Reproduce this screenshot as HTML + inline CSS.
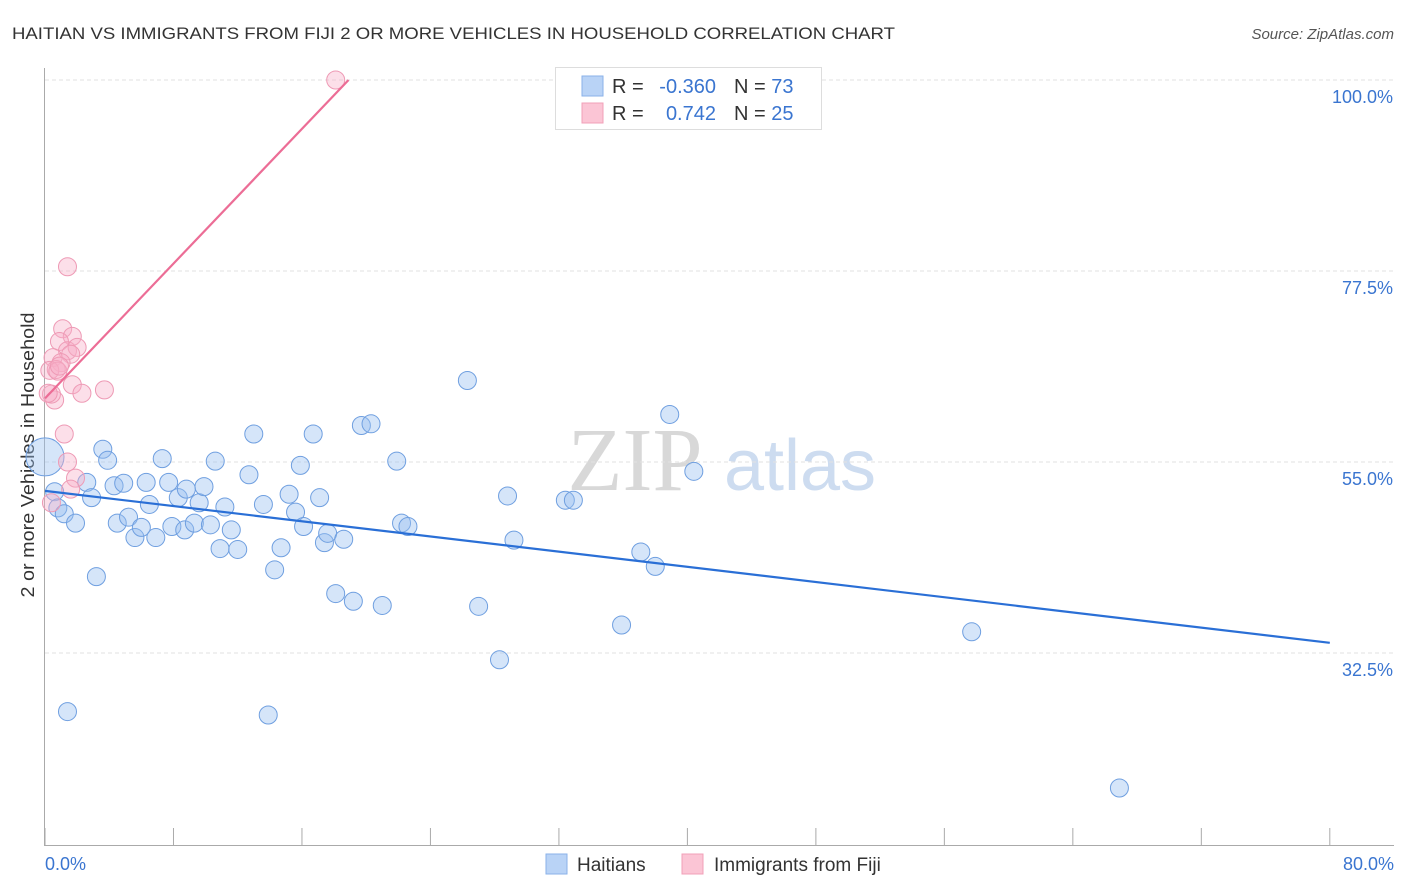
<!DOCTYPE html>
<html><head><meta charset="utf-8"><style>
body{margin:0;background:#fff;font-family:"Liberation Sans",sans-serif;}
svg{display:block}
</style></head><body>
<svg id="chart" width="1406" height="892" xmlns="http://www.w3.org/2000/svg">
<text x="12" y="39" font-size="17" fill="#333" textLength="883" lengthAdjust="spacingAndGlyphs">HAITIAN VS IMMIGRANTS FROM FIJI 2 OR MORE VEHICLES IN HOUSEHOLD CORRELATION CHART</text>
<text x="1394" y="39" font-size="15" fill="#555" font-style="italic" text-anchor="end">Source: ZipAtlas.com</text>
<text x="635" y="490" font-size="90" fill="#d8d8d8" font-family="Liberation Serif,serif" text-anchor="middle">ZIP</text>
<text x="800" y="490" font-size="72" fill="#cddcf0" text-anchor="middle">atlas</text>
<text transform="translate(34,455) rotate(-90)" font-size="18" fill="#333" text-anchor="middle" textLength="285" lengthAdjust="spacingAndGlyphs">2 or more Vehicles in Household</text>
<g id="grid"></g><g id="axes"></g><g id="pts"></g><g id="lines"></g>
<g>
<rect x="555.5" y="67.5" width="266" height="62" fill="#fff" stroke="#ddd"/>
<rect x="582" y="76" width="21" height="20" fill="#b9d3f6" stroke="#8ab2e8"/>
<rect x="582" y="103" width="21" height="20" fill="#fbc5d5" stroke="#f2a0b8"/>
<text x="612" y="93" font-size="20" fill="#333">R = </text>
<text x="716" y="93" font-size="20" fill="#3a75d0" text-anchor="end">-0.360</text>
<text x="734" y="93" font-size="20" fill="#333">N = <tspan fill="#3a75d0">73</tspan></text>
<text x="612" y="120" font-size="20" fill="#333">R = </text>
<text x="716" y="120" font-size="20" fill="#3a75d0" text-anchor="end">0.742</text>
<text x="734" y="120" font-size="20" fill="#333">N = <tspan fill="#3a75d0">25</tspan></text>
</g>
<g>
<rect x="546" y="854" width="21" height="20" fill="#b9d3f6" stroke="#8ab2e8"/>
<text x="577" y="871" font-size="19" fill="#333">Haitians</text>
<rect x="682" y="854" width="21" height="20" fill="#fbc5d5" stroke="#f2a0b8"/>
<text x="714" y="871" font-size="19" fill="#333">Immigrants from Fiji</text>
</g>
<text x="45" y="870" font-size="18" fill="#3a75d0">0.0%</text>
<text x="1394" y="870" font-size="18" fill="#3a75d0" text-anchor="end">80.0%</text>
</svg>
<script>
const yTicks=[100,77.5,55,32.5];
const yTickLabels=["100.0%","77.5%","55.0%","32.5%"];
const haitiansX=[0,0.6,0.8,1.2,1.9,2.6,2.9,3.2,3.6,3.9,4.3,1.4,4.9,4.5,5.2,5.6,6.0,6.3,6.5,6.9,7.3,7.7,7.9,8.3,8.7,8.8,9.3,9.6,9.9,10.3,10.6,10.9,11.2,11.6,12.0,12.7,13.0,13.6,13.9,14.3,14.7,15.2,15.6,15.9,16.1,16.7,17.1,17.4,17.6,18.1,18.6,19.2,19.7,20.3,21.0,21.9,22.2,22.6,26.3,27.0,28.3,28.8,29.2,32.4,32.9,35.9,37.1,38.0,38.9,40.4,57.7,66.9];
const haitiansY=[55.6,51.5,49.6,48.9,47.8,52.6,50.8,41.5,56.5,55.2,52.2,25.6,52.5,47.8,48.5,46.1,47.3,52.6,50.0,46.1,55.4,52.6,47.4,50.8,47.0,51.8,47.8,50.2,52.1,47.6,55.1,44.8,49.7,47.0,44.7,53.5,58.3,50.0,25.2,42.3,44.9,51.2,49.1,54.6,47.4,58.3,50.8,45.5,46.6,39.5,45.9,38.6,59.3,59.5,38.1,55.1,47.8,47.4,64.6,38.0,31.7,51.0,45.8,50.5,50.5,35.8,44.4,42.7,60.6,53.9,35.0,16.6];
const fijiX=[18.1,1.4,1.1,1.7,0.9,1.4,2.0,1.6,0.5,1.0,0.7,0.3,0.8,1.7,2.3,3.7,0.6,0.4,1.2,1.4,1.9,1.6,0.4,0.2,0.9];
const fijiY=[100,78.0,70.7,69.8,69.2,68.1,68.5,67.7,67.3,66.7,65.9,65.8,65.7,64.1,63.1,63.5,62.3,63.0,58.3,55.0,53.1,51.8,50.2,63.1,66.3];
const hTrend=[[0,51.6],[80,33.7]];
const fTrend=[[0,62.5],[18.9,100]];
const X=v=>45+v*16.06, Y=v=>80+(100-v)*8.489;
const ns="http://www.w3.org/2000/svg";
function mk(tag,attrs,parent){const e=document.createElementNS(ns,tag);for(const k in attrs)e.setAttribute(k,attrs[k]);document.getElementById(parent).appendChild(e);return e;}
yTicks.forEach((t,i)=>{
 const g=mk('line',{x1:45,x2:1394,y1:Y(t),y2:Y(t),stroke:'#e2e2e2','stroke-dasharray':'4,3'},'grid');
 
 
 const tx=mk('text',{x:1393,y:Y(t)+23,'font-size':18,fill:'#3a75d0','text-anchor':'end'},'grid');
 tx.textContent=yTickLabels[i];
 
 
});
const ax=mk('line',{x1:44.5,x2:44.5,y1:68,y2:845,stroke:'#aaa'},'axes');


const bx=mk('line',{x1:44,x2:1394,y1:845.5,y2:845.5,stroke:'#aaa'},'axes');


for(let i=0;i<=10;i++){const t=mk('line',{x1:X(i*8),x2:X(i*8),y1:828,y2:845,stroke:'#aaa'},'axes');
 
 }
haitiansX.forEach((x,i)=>{
 const c=mk('circle',{cx:X(x),cy:Y(haitiansY[i]),r:i===0?19:9,fill:'rgba(150,190,240,0.4)',stroke:'#6f9fe0','stroke-width':1},'pts');
 
 
});
fijiX.forEach((x,i)=>{
 const c=mk('circle',{cx:X(x),cy:Y(fijiY[i]),r:9,fill:'rgba(248,175,200,0.4)',stroke:'#ee9ab5','stroke-width':1},'pts');
 
 
});
const l1=mk('line',{x1:X(hTrend[0][0]),y1:Y(hTrend[0][1]),x2:X(hTrend[1][0]),y2:Y(hTrend[1][1]),stroke:'#2a6fd6','stroke-width':2.2},'lines');


const l2=mk('line',{x1:X(fTrend[0][0]),y1:Y(fTrend[0][1]),x2:X(fTrend[1][0]),y2:Y(fTrend[1][1]),stroke:'#ec6d96','stroke-width':2.2},'lines');


</script>
</body></html>
